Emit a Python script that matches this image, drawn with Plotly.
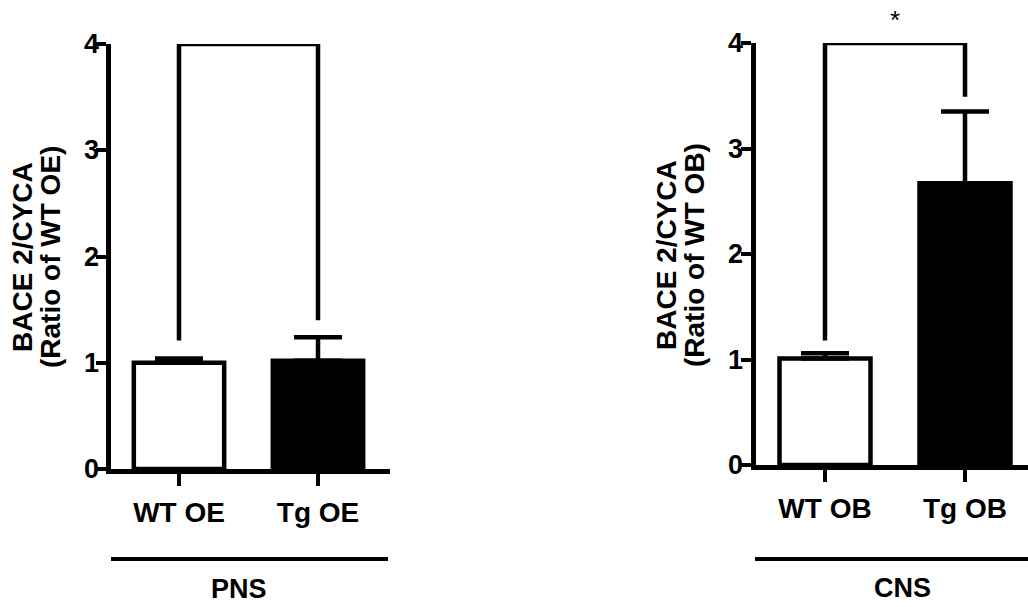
import plotly.graph_objects as go

W, H = 1028, 607

# ---- data ----
pns_categories = ["WT OE", "Tg OE"]
pns_means = [1.0, 1.02]
pns_sem = [0.04, 0.22]
pns_bracket_y = [1.21, 4.0, 4.0, 1.40]

cns_categories = ["WT OB", "Tg OB"]
cns_means = [1.01, 2.67]
cns_sem = [0.05, 0.68]
cns_bracket_y = [1.18, 4.0, 4.0, 3.49]
cns_significance = "*"

y_ticks = [0, 1, 2, 3, 4]
y_title_line1 = "BACE 2/CYCA"
pns_y_title_line2 = "(Ratio of WT OE)"
cns_y_title_line2 = "(Ratio of WT OB)"
group_labels = ["PNS", "CNS"]

FONT = "Liberation Sans, Arial, sans-serif"
LW = 4.5


def px_x(p):
    return p / W


def px_y(p):
    return 1 - p / H


fig = go.Figure()

panels = [
    dict(cats=pns_categories, means=pns_means, sem=pns_sem, br=pns_bracket_y,
         xa="x", ya="y", x0px=111, x1px=390, y0px=469, y4px=44,
         tick0=179, tick1=318, lab_right=101),
    dict(cats=cns_categories, means=cns_means, sem=cns_sem, br=cns_bracket_y,
         xa="x2", ya="y2", x0px=756, x1px=1028, y0px=465, y4px=43,
         tick0=825, tick1=965, lab_right=745),
]

for i, p in enumerate(panels):
    fig.add_trace(go.Bar(
        x=p["cats"], y=p["means"], xaxis=p["xa"], yaxis=p["ya"],
        width=0.65,
        marker=dict(color=["white", "black"], line=dict(color="black", width=LW)),
        error_y=dict(type="data", symmetric=False, array=p["sem"],
                     arrayminus=[0] * len(p["sem"]), color="black",
                     thickness=LW, width=24),
        showlegend=False, hoverinfo="skip",
    ))
    fig.add_trace(go.Scatter(
        x=[p["cats"][0], p["cats"][0], p["cats"][1], p["cats"][1]],
        y=p["br"], xaxis=p["xa"], yaxis=p["ya"], mode="lines",
        line=dict(color="black", width=LW), cliponaxis=False,
        showlegend=False, hoverinfo="skip",
    ))

annotations = []
layout_axes = {}
for i, p in enumerate(panels):
    suffix = "" if i == 0 else "2"
    unit = p["tick1"] - p["tick0"]
    xr = [(p["x0px"] - p["tick0"]) / unit, (p["x1px"] - p["tick0"]) / unit]
    layout_axes["xaxis" + suffix] = dict(
        domain=[px_x(p["x0px"]), min(1.0, px_x(p["x1px"]))],
        range=xr, type="category", showline=True, linecolor="black",
        linewidth=LW, ticks="outside", ticklen=12, tickwidth=4,
        tickcolor="black", showgrid=False, zeroline=False,
        tickfont=dict(family=FONT, size=28, color="black", weight="bold"),
        anchor="y" + suffix, ticklabelstandoff=3,
    )
    layout_axes["yaxis" + suffix] = dict(
        domain=[px_y(p["y0px"]), px_y(p["y4px"])],
        range=[0, 4], tickvals=y_ticks, showline=True, linecolor="black",
        linewidth=LW, ticks="outside", ticklen=10, tickwidth=4,
        tickcolor="black", showgrid=False, zeroline=False,
        showticklabels=False, anchor="x" + suffix,
    )
    for t in y_ticks:
        annotations.append(dict(
            x=px_x(p["lab_right"]), y=t, xref="paper", yref="y" + suffix,
            text=str(t), showarrow=False, xanchor="right", yanchor="middle",
            font=dict(family=FONT, size=27, color="black", weight="bold"),
        ))

# y titles
for (xc1, xc2, yc, line2) in [(22, 50, 257, pns_y_title_line2),
                              (667, 695, 255, cns_y_title_line2)]:
    for xc, txt in [(xc1, y_title_line1), (xc2, line2)]:
        annotations.append(dict(
            x=px_x(xc), y=px_y(yc), xref="paper", yref="paper",
            text=txt, textangle=-90, showarrow=False,
            xanchor="center", yanchor="middle",
            font=dict(family=FONT, size=28, color="black", weight="bold"),
        ))

# significance star
annotations.append(dict(
    x=0.5, y=4, xref="x2", yref="y2", text=cns_significance, showarrow=False,
    yanchor="bottom", yshift=6,
    font=dict(family=FONT, size=26, color="black"),
))

# group labels
shapes = []
for (xa, xb, yl, xc, yc, txt) in [(111, 388, 559, 239, 589, group_labels[0]),
                                  (755, 1028, 559, 902, 588, group_labels[1])]:
    shapes.append(dict(type="line", xref="paper", yref="paper",
                       x0=px_x(xa), x1=px_x(xb), y0=px_y(yl), y1=px_y(yl),
                       line=dict(color="black", width=4)))
    annotations.append(dict(
        x=px_x(xc), y=px_y(yc), xref="paper", yref="paper", text=txt,
        showarrow=False, xanchor="center", yanchor="middle", borderpad=0,
        font=dict(family=FONT, size=27, color="black", weight="bold"),
    ))

fig.update_layout(
    width=W, height=H,
    margin=dict(l=0, r=0, t=0, b=0, autoexpand=False),
    paper_bgcolor="white", plot_bgcolor="white",
    annotations=annotations, shapes=shapes, bargap=0.3,
    **layout_axes,
)

fig.write_html(
    "out.html",
    config={"displayModeBar": False},
    post_script="document.body.style.margin='0';document.body.style.padding='0';",
)
